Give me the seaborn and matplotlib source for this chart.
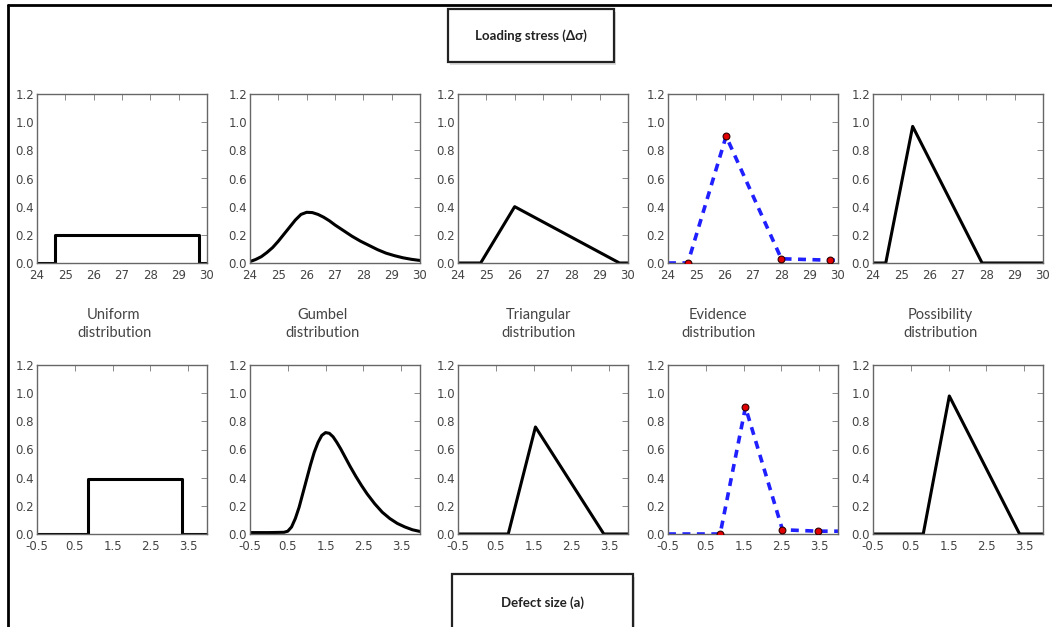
import numpy as np
import matplotlib
matplotlib.use("Agg")
import matplotlib.pyplot as plt
from matplotlib.patches import Rectangle
from matplotlib.lines import Line2D
import seaborn as sns

# ---- data ----
# top row: loading stress
uni_top_x = [24.0, 24.65, 24.65, 29.7, 29.7, 30.0]
uni_top_y = [0.0, 0.0, 0.2, 0.2, 0.0, 0.0]
gum_top_x = [24.0, 24.2, 24.4, 24.6, 24.8, 25.0, 25.2, 25.4, 25.6, 25.8, 26.0, 26.2, 26.4,
             26.6, 26.8, 27.0, 27.3, 27.6, 27.9, 28.2, 28.5, 28.8, 29.1, 29.4, 29.7, 30.0]
gum_top_y = [0.01, 0.025, 0.045, 0.075, 0.11, 0.155, 0.205, 0.255, 0.305, 0.345, 0.36, 0.358,
             0.345, 0.325, 0.3, 0.27, 0.23, 0.19, 0.155, 0.125, 0.095, 0.07, 0.052, 0.037,
             0.026, 0.018]
tri_top_x = [24.0, 24.8, 26.0, 29.7, 30.0]
tri_top_y = [0.0, 0.0, 0.4, 0.0, 0.0]
evi_top_x = [24.0, 24.7, 26.05, 28.0, 29.7, 30.0]
evi_top_y = [0.0, 0.0, 0.9, 0.03, 0.02, 0.02]
evi_top_mx = [24.7, 26.05, 28.0, 29.7]
evi_top_my = [0.0, 0.9, 0.03, 0.02]
pos_top_x = [24.0, 24.45, 25.4, 27.85, 30.0]
pos_top_y = [0.0, 0.0, 0.97, 0.0, 0.0]

# bottom row: defect size
uni_bot_x = [-0.5, 0.85, 0.85, 3.35, 3.35, 4.0]
uni_bot_y = [0.0, 0.0, 0.39, 0.39, 0.0, 0.0]
gum_bot_x = [-0.5, 0.0, 0.4, 0.5, 0.6, 0.7, 0.8, 0.9, 1.0, 1.1, 1.2, 1.3, 1.4, 1.5, 1.6,
             1.7, 1.8, 1.9, 2.0, 2.15, 2.3, 2.45, 2.6, 2.8, 3.0, 3.2, 3.4, 3.6, 3.8, 4.0]
gum_bot_y = [0.01, 0.01, 0.012, 0.02, 0.05, 0.11, 0.19, 0.29, 0.39, 0.49, 0.58, 0.65, 0.7,
             0.72, 0.715, 0.69, 0.65, 0.605, 0.555, 0.48, 0.41, 0.345, 0.285, 0.215, 0.155,
             0.11, 0.075, 0.05, 0.03, 0.018]
tri_bot_x = [-0.5, 0.83, 1.55, 3.36, 4.0]
tri_bot_y = [0.0, 0.0, 0.76, 0.0, 0.0]
evi_bot_x = [-0.5, 0.88, 1.55, 2.53, 3.46, 4.0]
evi_bot_y = [0.0, 0.0, 0.9, 0.03, 0.02, 0.02]
evi_bot_mx = [0.88, 1.55, 2.53, 3.46]
evi_bot_my = [0.0, 0.9, 0.03, 0.02]
pos_bot_x = [-0.5, 0.83, 1.52, 3.38, 4.0]
pos_bot_y = [0.0, 0.0, 0.98, 0.0, 0.0]

names = ["Uniform\ndistribution", "Gumbel\ndistribution", "Triangular\ndistribution",
         "Evidence\ndistribution", "Possibility\ndistribution"]
top_ticks = [24, 25, 26, 27, 28, 29, 30]
bot_ticks = [-0.5, 0.5, 1.5, 2.5, 3.5]
y_ticks = [0.0, 0.2, 0.4, 0.6, 0.8, 1.0, 1.2]

sns.set_style("white")
plt.rcParams['font.family'] = ['DejaVu Sans']

W, H = 1052, 627
fig = plt.figure(figsize=(W / 100, H / 100), dpi=100)

lefts = [37, 250, 458, 668, 873]
tops = [94, 365]
aw, ah = 170, 169

def px_axes(l, t):
    return fig.add_axes([l / W, 1 - (t + ah) / H, aw / W, ah / H])

top_data = [(uni_top_x, uni_top_y), (gum_top_x, gum_top_y), (tri_top_x, tri_top_y),
            (evi_top_x, evi_top_y), (pos_top_x, pos_top_y)]
bot_data = [(uni_bot_x, uni_bot_y), (gum_bot_x, gum_bot_y), (tri_bot_x, tri_bot_y),
            (evi_bot_x, evi_bot_y), (pos_bot_x, pos_bot_y)]

for row, (data, xlim, xt) in enumerate([(top_data, (24, 30), top_ticks),
                                         (bot_data, (-0.5, 4.0), bot_ticks)]):
    for col in range(5):
        ax = px_axes(lefts[col], tops[row])
        x, y = data[col]
        if col == 3:
            sns.lineplot(x=x, y=y, ax=ax, color="#1f1fff", lw=2.6, sort=False,
                         estimator=None, linestyle=(0, (2.2, 1.8)))
            mx = evi_top_mx if row == 0 else evi_bot_mx
            my = evi_top_my if row == 0 else evi_bot_my
            sns.scatterplot(x=mx, y=my, ax=ax, color="#e00000", edgecolor="#300000",
                            s=24, linewidth=0.8, zorder=5)
        else:
            sns.lineplot(x=x, y=y, ax=ax, color="black", lw=2.2, sort=False, estimator=None)
        ax.set_xlim(*xlim)
        ax.set_ylim(0, 1.2)
        ax.set_xticks(xt)
        ax.set_yticks(y_ticks)
        ax.set_xticklabels([str(v) for v in xt])
        ax.set_yticklabels(["%.1f" % v for v in y_ticks])
        ax.tick_params(direction="in", top=True, right=True, length=4, width=0.6,
                       labelsize=8.5, labelcolor="#444444", color="#777777")
        ax.tick_params(axis="x", pad=4)
        ax.tick_params(axis="y", pad=2)
        for s in ax.spines.values():
            s.set_color("#666666")
            s.set_linewidth(1.0)

# distribution names between the rows
centers = [114, 323, 538, 718, 940]
for c, n in zip(centers, names):
    fig.text(c / W, 1 - 324 / H, n, ha="center", va="center", fontsize=10.5,
             color="#444444", family="Lato", linespacing=1.4)

# boxed headings
def box(l, t, r, b, label, ty):
    fig.add_artist(Rectangle((l / W + 0.002, 1 - b / H - 0.004), (r - l) / W, (b - t) / H,
                             transform=fig.transFigure, facecolor="#dddddd",
                             edgecolor="none", zorder=1, clip_on=False))
    fig.add_artist(Rectangle((l / W, 1 - b / H), (r - l) / W, (b - t) / H,
                             transform=fig.transFigure, facecolor="white",
                             edgecolor="#222222", lw=1.6, zorder=2, clip_on=False))
    fig.text((l + r) / 2 / W, 1 - ty / H, label, ha="center", va="center",
             fontsize=9.5, fontweight="bold", color="#222222", family="Lato", zorder=3)

box(448, 9, 614, 62, "Loading stress (Δσ)", 36)
box(452, 574, 633, 640, "Defect size (a)", 603)

# page frame lines on left and top
fig.add_artist(Line2D([8 / W, 8 / W], [0, 1 - 5 / H], transform=fig.transFigure,
                      color="black", lw=2))
fig.add_artist(Line2D([8 / W, 1], [1 - 5 / H, 1 - 5 / H], transform=fig.transFigure,
                      color="black", lw=2))

plt.savefig("out.png", dpi=100)
